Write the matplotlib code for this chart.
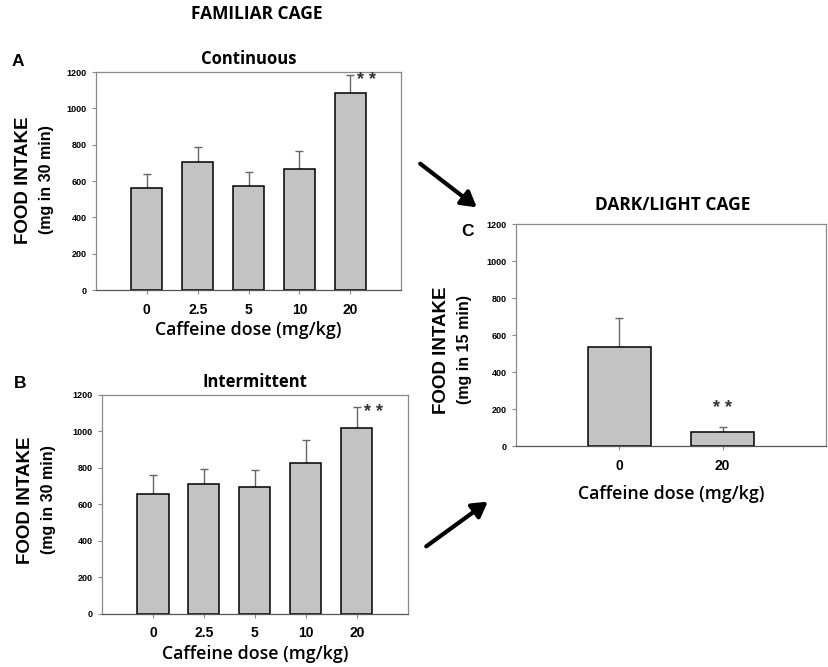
import matplotlib
matplotlib.use("Agg")
import matplotlib.pyplot as plt

# data
doses_ab = ["0", "2.5", "5", "10", "20"]
continuous_mean = [563, 703, 574, 666, 1084]
continuous_err = [77, 84, 75, 101, 97]
intermittent_mean = [656, 711, 694, 827, 1021]
intermittent_err = [104, 84, 93, 126, 112]

doses_c = ["0", "20"]
darklight_mean = [538, 78]
darklight_err = [155, 23]

yticks = [0, 200, 400, 600, 800, 1000, 1200]

bar_col = "#c3c3c3"
frame_col = "#8a8a8a"
tick_font = "Liberation Sans"
text_font = "Open Sans"

fig = plt.figure(figsize=(8.29, 6.67), dpi=100)


def panel(rect, labels, means, errs, title=None):
    ax = fig.add_axes(rect)
    x = list(range(1, len(labels) + 1))
    ax.bar(x, means, width=0.61, color=bar_col, edgecolor="black",
           linewidth=1.1, zorder=2)
    ax.errorbar(x, means, yerr=[[0] * len(errs), errs], fmt="none",
                ecolor="#666666", elinewidth=1.0, capsize=3, capthick=1.0,
                zorder=1)
    ax.set_xlim(0, len(labels) + 1)
    ax.set_ylim(0, 1200)
    ax.set_yticks(yticks)
    ax.set_yticklabels([str(v) for v in yticks], fontsize=6.5,
                       fontweight="bold", family=tick_font)
    ax.set_xticks(x)
    ax.set_xticklabels(labels, fontsize=10, fontweight="bold",
                       family=tick_font)
    ax.tick_params(axis="both", length=3, width=0.8, color=frame_col)
    ax.tick_params(axis="x", pad=6)
    for s in ax.spines.values():
        s.set_color(frame_col)
        s.set_linewidth(0.9)
    ax.spines["bottom"].set_color("#555555")
    ax.set_xlabel("Caffeine dose (mg/kg)", fontsize=12.8, fontweight="semibold",
                  family=text_font, labelpad=3)
    if title:
        ax.set_title(title, fontsize=12, fontweight="bold",
                     family=text_font, pad=6)
    return ax


axA = panel([0.1158, 0.5652, 0.368, 0.3268], doses_ab, continuous_mean,
            continuous_err, "Continuous")
axB = panel([0.123, 0.0795, 0.369, 0.3283], doses_ab, intermittent_mean,
            intermittent_err, "Intermittent")
axC = panel([0.6224, 0.3313, 0.374, 0.3328], doses_c, darklight_mean,
            darklight_err)
axC.xaxis.labelpad = 9

# significance marks
star_kw = dict(va="center", fontsize=13, fontweight="bold", family=tick_font,
               color="#333333")
axA.text(5.13, continuous_mean[4] + continuous_err[4] - 30, "* *",
         ha="left", **star_kw)
axB.text(5.13, intermittent_mean[4] + intermittent_err[4] - 30, "* *",
         ha="left", **star_kw)
axC.text(2, darklight_mean[1] + darklight_err[1] + 100, "* *",
         ha="center", **star_kw)


# y labels, two lines
def ylab(x1, x2, y, second):
    fig.text(x1 / 829, 1 - y / 667, "FOOD INTAKE", rotation=90, ha="center",
             va="center", fontsize=13.5, fontweight="bold", family=tick_font)
    fig.text(x2 / 829, 1 - y / 667, second, rotation=90, ha="center",
             va="center", fontsize=11.5, fontweight="bold", family=tick_font)


ylab(24, 47, 180, "(mg in 30 min)")
ylab(26, 49, 500, "(mg in 30 min)")
ylab(441, 465, 350, "(mg in 15 min)")

# headings and panel letters
fig.text(257 / 829, 1 - 14 / 667, "FAMILIAR CAGE", ha="center", va="center",
         fontsize=12.5, fontweight="bold", family=text_font)
fig.text(673 / 829, 1 - 205 / 667, "DARK/LIGHT CAGE", ha="center",
         va="center", fontsize=12.5, fontweight="bold", family=text_font)
for letter, px, py in [("A", 18, 62), ("B", 20, 383), ("C", 468, 231)]:
    fig.text(px / 829, 1 - py / 667, letter, ha="center", va="center",
             fontsize=12.5, fontweight="bold", family=tick_font)

# arrows between panels
for (x0, y0), (x1, y1) in [((418, 162), (479, 209)), ((424, 548), (490, 500))]:
    fig.patches.append(matplotlib.patches.FancyArrowPatch(
        (x0 / 829, 1 - y0 / 667), (x1 / 829, 1 - y1 / 667),
        transform=fig.transFigure, arrowstyle="-|>,head_length=6,head_width=3.5",
        color="black", linewidth=3, mutation_scale=1.5))

fig.savefig("out.png", dpi=100)
